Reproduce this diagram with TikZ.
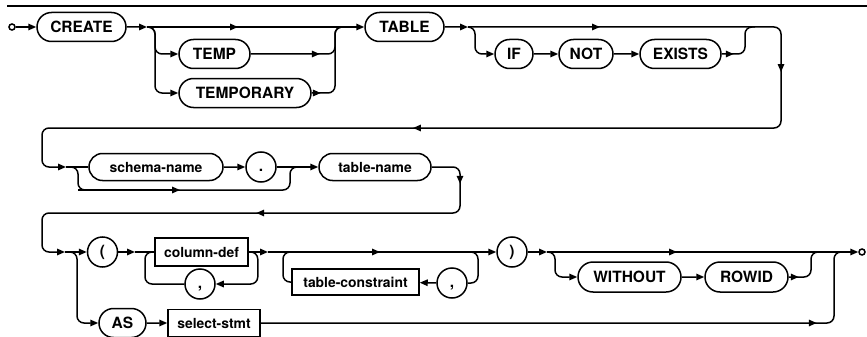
\documentclass[tikz,border=0pt]{standalone}
\usepackage{fontspec}
\setmainfont{TeX Gyre Heros}
\usetikzlibrary{arrows.meta,shapes.misc,decorations.markings}
\tikzset{
  rail/.style={rounded corners=7pt},
  endarrow/.style={-{Triangle[length=8pt,width=6.5pt]}},
  arrowat/.style={postaction={decorate,decoration={markings,
    mark=at position #1 with {\arrow{Triangle[length=8pt,width=6.5pt]}}}}},
  kw/.style={rounded rectangle,draw,minimum height=29pt,inner sep=2pt,
    font=\fontsize{15.5}{18}\selectfont\bfseries},
  nt/.style={rounded rectangle,draw,minimum height=27pt,inner sep=2pt,
    font=\fontsize{13.9}{16}\selectfont\bfseries},
  ntbox/.style={rectangle,draw,minimum height=27pt,inner sep=2pt,
    font=\fontsize{13.9}{16}\selectfont\bfseries},
  punct/.style={circle,draw,minimum size=30pt,inner sep=0pt,text height=11pt,text depth=3pt,
    font=\fontsize{15.5}{18}\selectfont\bfseries},
  termdot/.style={circle,draw,minimum size=6pt,inner sep=0pt},
}
\begin{document}
\begin{tikzpicture}[x=1pt,y=-1pt,line width=1.5pt]
  \useasboundingbox (0,0) rectangle (867,337);
  \draw[line width=1.3pt] (7,6) -- (867,6);
  % row 1
  \node[termdot] (start) at (12,27) {};
  \node[kw,minimum width=93pt] (create) at (81.5,27) {CREATE};
  \node[kw,minimum width=75pt] (temp) at (214.5,54) {TEMP};
  \node[kw,minimum width=136pt] (temporary) at (245,93) {TEMPORARY};
  \node[kw,minimum width=83pt] (table) at (404.5,27) {TABLE};
  \node[kw,minimum width=42pt] (if) at (514,54) {IF};
  \node[kw,minimum width=58pt] (not) at (586,54) {NOT};
  \node[kw,minimum width=85pt] (exists) at (680.5,54) {EXISTS};
  \coordinate (s1) at (147,27);
  \coordinate (j1) at (335,27);
  \coordinate (s2) at (468,27);
  \coordinate (j2) at (745,27);
  % row 2
  \node[nt,minimum width=138pt] (schema) at (156,167) {schema-name};
  \node[punct] (dot) at (261,167) {.};
  \node[nt,minimum width=116pt] (tname) at (375,167) {table-name};
  \coordinate (s3) at (66,167);
  \coordinate (b3) at (78,190);
  \coordinate (m3) at (180,190);
  \coordinate (j3) at (290,167);
  % row 3
  \node[punct] (lpar) at (102.5,252) {(};
  \node[ntbox,minimum width=93pt,minimum height=28pt] (coldef) at (201.5,252) {column-def};
  \node[punct] (comma1) at (200,284) {,};
  \node[ntbox,minimum width=127pt,minimum height=26pt] (tcons) at (355.5,282) {table-constraint};
  \node[punct] (comma2) at (452,283) {,};
  \node[punct] (rpar) at (512,252) {)};
  \node[kw,minimum width=107pt,minimum height=30pt] (without) at (629.5,277) {WITHOUT};
  \node[kw,minimum width=87pt,minimum height=30pt] (rowid) at (746.5,277) {ROWID};
  \node[termdot] (end) at (862,252) {};
  \node[kw,minimum width=51pt] (as) at (122.5,323) {AS};
  \node[ntbox,minimum width=92pt] (select) at (214,323) {select-stmt};
  \coordinate (s4) at (65,252);
  \coordinate (s5) at (135,252);
  \coordinate (l1) at (145,252);
  \coordinate (s6) at (268,252);
  \coordinate (l2) at (283,252);
  \coordinate (r2) at (471,252);
  \coordinate (s7) at (547,252);
  \coordinate (j4) at (811,252);
  \coordinate (j5) at (834,252);
  \begin{scope}[endarrow]
    \draw (start) -- (create);
    \draw (create) -- (s1);
    \draw[arrowat=91pt] (s1) -- (table);
    \draw[rail] (s1) -- ++(8,0) |- (temp);
    \draw[rail] (s1) -- ++(8,0) |- (temporary);
    \draw (table) -- (s2);
    \draw[rail] (s2) -- ++(7,0) |- (if);
    \draw (if) -- (not);
    \draw (not) -- (exists);
    \draw[rail,arrowat=132pt,arrowat=355pt,arrowat=776pt]
      (s2) -- (781,27) -- (781,128) -- (42,128) -- (42,167) -- (s3);
    \draw (dot) -- (tname);
    \draw (schema) -- (dot);
    \draw (b3) -- (m3);
    \draw[rail,arrowat=42pt,arrowat=272pt]
      (tname) -- (460,167) -- (460,213) -- (42,213) -- (42,252) -- (s4);
    \draw (s4) -- (lpar);
    \draw[rail] (s4) -- ++(12,0) |- (as);
    \draw (lpar) -- (s5);
    \draw (coldef) -- (s6);
    \draw[rail] (coldef.east) -- ++(9,0) |- (comma1);
    \draw[arrowat=112pt] (s6) -- (rpar);
    \draw (comma2) -- (tcons);
    \draw (rpar) -- (s7);
    \draw[arrowat=130pt] (s7) -- (end);
    \draw[rail] (s7) -- ++(8,0) |- (without);
    \draw (without) -- (rowid);
    \draw (as) -- (select);
  \end{scope}
  \begin{scope}[rail]
    \draw[arrowat=0.61] (temp) -| (j1) -- ++(8,0);
    \draw[arrowat=0.1] (temporary) -| (j1) -- ++(8,0);
    \draw[arrowat=12pt] (exists) -| (j2) -- ++(10,0);
    \draw (s3) -- (schema);
    \draw (s3) -- ++(12,0) -- (b3) -| (j3) -- ++(7,0);
    \draw (s5) -- (coldef);
    \draw (comma1) -| (l1) -- (coldef);
    \draw (r2) -- ++(7,0) |- (comma2);
    \draw (tcons) -| (l2) -- ++(7,0);
    \draw[arrowat=10pt] (rowid) -| (j4) -- ++(8,0);
    \draw[arrowat=556pt] (select) -| (j5) -- ++(8,0);
  \end{scope}
\end{tikzpicture}
\end{document}
